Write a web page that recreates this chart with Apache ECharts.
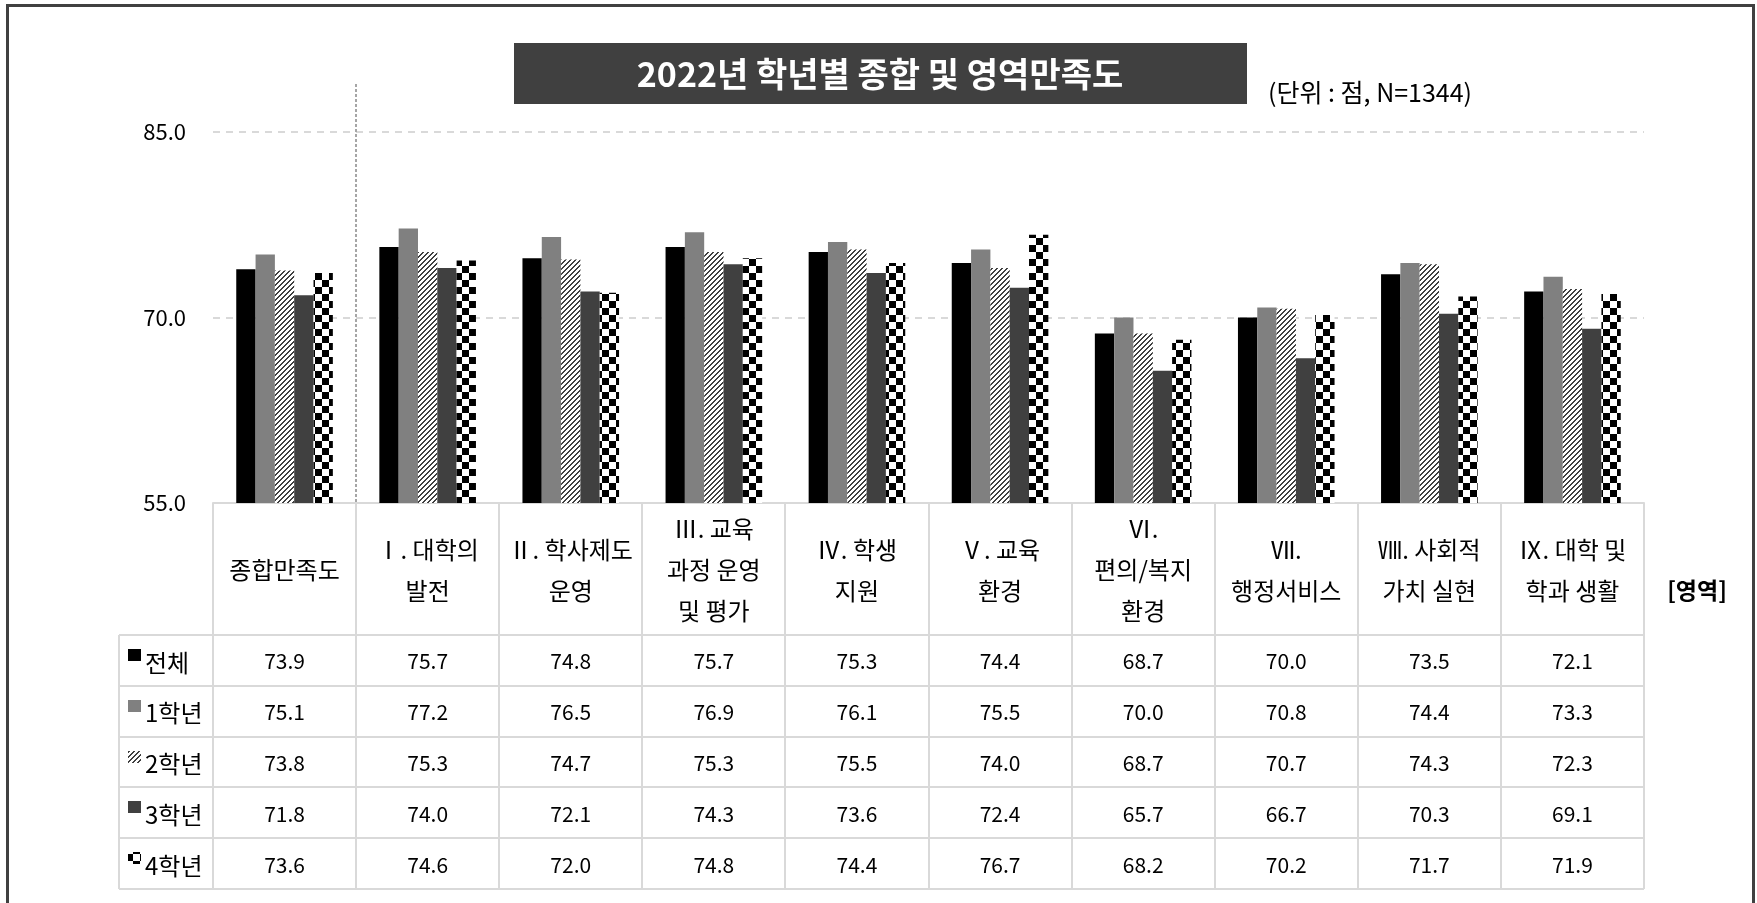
<!DOCTYPE html>
<html>
<head>
<meta charset="utf-8">
<title>2022년 학년별 종합 및 영역만족도</title>
<script src="https://cdn.jsdelivr.net/npm/echarts@6.0.0/dist/echarts.min.js"></script>
<style>
  html, body { margin: 0; padding: 0; background: #fff; }
  #chart { width: 1757px; height: 903px; }
</style>
</head>
<body>
<div id="chart"></div>
<script>
// 영역 (x축 카테고리)
const categories = [
  '종합만족도',
  'Ⅰ. 대학의\n발전',
  'Ⅱ. 학사제도\n운영',
  'Ⅲ. 교육\n과정 운영\n및 평가',
  'Ⅳ. 학생\n지원',
  'Ⅴ. 교육\n환경',
  'Ⅵ.\n편의/복지\n환경',
  'Ⅶ.\n행정서비스',
  'Ⅷ. 사회적\n가치 실현',
  'Ⅸ. 대학 및\n학과 생활'
]
const groupNames = ['전체', '1학년', '2학년', '3학년', '4학년']

// 학년별 점수
const scoreAll = [73.9, 75.7, 74.8, 75.7, 75.3, 74.4, 68.7, 70.0, 73.5, 72.1]
const scoreGrade1 = [75.1, 77.2, 76.5, 76.9, 76.1, 75.5, 70.0, 70.8, 74.4, 73.3]
const scoreGrade2 = [73.8, 75.3, 74.7, 75.3, 75.5, 74.0, 68.7, 70.7, 74.3, 72.3]
const scoreGrade3 = [71.8, 74.0, 72.1, 74.3, 73.6, 72.4, 65.7, 66.7, 70.3, 69.1]
const scoreGrade4 = [73.6, 74.6, 72.0, 74.8, 74.4, 76.7, 68.2, 70.2, 71.7, 71.9]

// y축 눈금
const yTicks = [55, 70, 85]

const FONT = '"Noto Sans CJK KR", "Noto Sans", sans-serif'
const LINE = '#d9d9d9'

// 빗금 패턴 (2학년)
const makeStripe = () => {
  const n = 5
  const c = document.createElement('canvas')
  c.width = n
  c.height = n
  const g = c.getContext('2d')
  g.fillStyle = '#ffffff'
  g.fillRect(0, 0, n, n)
  g.fillStyle = '#404040'
  for (let y = 0; y < n; y++) {
    const x = n - 1 - y
    g.fillRect(x, y, 1, 1)
    g.fillRect((x + 1) % n, y, 1, 1)
  }
  return c
}

// 체크무늬 패턴 (4학년)
const makeChecker = () => {
  const s = 7
  const c = document.createElement('canvas')
  c.width = s * 2
  c.height = s * 2
  const g = c.getContext('2d')
  g.fillStyle = '#ffffff'
  g.fillRect(0, 0, s * 2, s * 2)
  g.fillStyle = '#000000'
  g.fillRect(0, 0, s, s)
  g.fillRect(s, s, s, s)
  return c
}

const fills = [
  '#000000',
  '#808080',
  { image: makeStripe(), repeat: 'repeat' },
  '#404040',
  { image: makeChecker(), repeat: 'repeat' }
]
const seriesData = [scoreAll, scoreGrade1, scoreGrade2, scoreGrade3, scoreGrade4]

const chart = echarts.init(document.getElementById('chart'), null, { renderer: 'canvas' })

const option = {
  backgroundColor: '#ffffff',
  animation: false,
  textStyle: { fontFamily: FONT },
  grid: {
    left: 213,
    right: 113,
    top: 132,
    bottom: 400,
    outerBoundsMode: 'none'
  },
  xAxis: {
    type: 'category',
    data: categories,
    axisLine: { lineStyle: { color: LINE, width: 2 } },
    axisTick: { show: false },
    axisLabel: {
      interval: 0,
      color: '#000',
      fontSize: 24,
      fontFamily: FONT,
      lineHeight: 41,
      margin: 67,
      verticalAlign: 'middle'
    }
  },
  yAxis: {
    type: 'value',
    min: yTicks[0],
    max: yTicks[yTicks.length - 1],
    interval: yTicks[1] - yTicks[0],
    axisLine: { show: false },
    axisTick: { show: false },
    axisLabel: {
      color: '#000',
      fontSize: 22,
      fontFamily: FONT,
      margin: 27,
      formatter: v => v.toFixed(1)
    },
    splitLine: {
      lineStyle: { color: LINE, width: 2, type: [7, 6] }
    }
  },
  series: groupNames.map((name, i) => ({
    name,
    type: 'bar',
    data: seriesData[i],
    barGap: '0%',
    barCategoryGap: '32.5%',
    itemStyle: { color: fills[i] }
  }))
}

chart.setOption(option)

// 표와 제목은 축 좌표에서 위치를 계산해서 그림
const buildGraphics = () => {
  const px = i => chart.convertToPixel({ xAxisIndex: 0 }, i)
  const colW = px(1) - px(0)
  const edges = categories.map((_, i) => Math.round(px(i) - colW / 2))
  edges.push(Math.round(px(categories.length - 1) + colW / 2))
  const axisY = Math.round(chart.convertToPixel({ yAxisIndex: 0 }, yTicks[0]))
  const headTop = axisY
  const headBottom = headTop + 132
  const rowH = 50.8
  const tableLeft = 119
  const tableRight = edges[edges.length - 1]
  const tableBottom = Math.round(headBottom + rowH * groupNames.length)

  const els = []

  // 바깥 테두리
  els.push({
    type: 'rect',
    shape: { x: 7.5, y: 5.5, width: 1746, height: 1000 },
    style: { fill: 'none', stroke: '#404040', lineWidth: 3 },
    z: 10
  })

  // 제목
  els.push({
    type: 'rect',
    shape: { x: 514, y: 43, width: 733, height: 61 },
    style: { fill: '#404040' }
  })
  els.push({
    type: 'text',
    x: 880,
    y: 74,
    style: {
      text: '2022년 학년별 종합 및 영역만족도',
      fill: '#ffffff',
      font: 'bold 34px ' + FONT,
      textAlign: 'center',
      textVerticalAlign: 'middle'
    }
  })
  els.push({
    type: 'text',
    x: 1268,
    y: 92,
    style: {
      text: '(단위 : 점, N=1344)',
      fill: '#000',
      font: '25px ' + FONT,
      textAlign: 'left',
      textVerticalAlign: 'middle'
    }
  })
  els.push({
    type: 'text',
    x: 1697,
    y: 590,
    style: {
      text: '[영역]',
      fill: '#000',
      font: 'bold 23px ' + FONT,
      textAlign: 'center',
      textVerticalAlign: 'middle'
    }
  })

  // 종합만족도 구분 점선
  els.push({
    type: 'line',
    shape: { x1: edges[1], y1: 84, x2: edges[1], y2: axisY },
    style: { stroke: '#a6a6a6', lineWidth: 2, lineDash: [3, 2] }
  })

  // 표 세로선
  edges.forEach(x => {
    els.push({
      type: 'line',
      shape: { x1: x, y1: headTop, x2: x, y2: tableBottom },
      style: { stroke: LINE, lineWidth: 2 }
    })
  })
  els.push({
    type: 'line',
    shape: { x1: tableLeft, y1: headBottom, x2: tableLeft, y2: tableBottom },
    style: { stroke: LINE, lineWidth: 2 }
  })

  // 표 가로선
  for (let r = 0; r <= groupNames.length; r++) {
    const y = Math.round(headBottom + rowH * r)
    els.push({
      type: 'line',
      shape: { x1: tableLeft, y1: y, x2: tableRight, y2: y },
      style: { stroke: LINE, lineWidth: 2 }
    })
  }

  // 행 제목과 값
  groupNames.forEach((name, r) => {
    const top = headBottom + rowH * r
    const cy = top + rowH / 2
    els.push({
      type: 'rect',
      shape: { x: 128, y: Math.round(top + 14), width: 13, height: 12 },
      style: { fill: fills[r] }
    })
    els.push({
      type: 'text',
      x: 145,
      y: cy + 2,
      style: {
        text: name,
        fill: '#000',
        font: '24px ' + FONT,
        textAlign: 'left',
        textVerticalAlign: 'middle'
      }
    })
    seriesData[r].forEach((v, c) => {
      els.push({
        type: 'text',
        x: px(c),
        y: cy + 1,
        style: {
          text: v.toFixed(1),
          fill: '#000',
          font: '21px ' + FONT,
          textAlign: 'center',
          textVerticalAlign: 'middle'
        }
      })
    })
  })

  chart.setOption({ graphic: { elements: els } })
}

buildGraphics()

window.addEventListener('resize', () => {
  chart.resize()
  buildGraphics()
})
</script>
</body>
</html>
